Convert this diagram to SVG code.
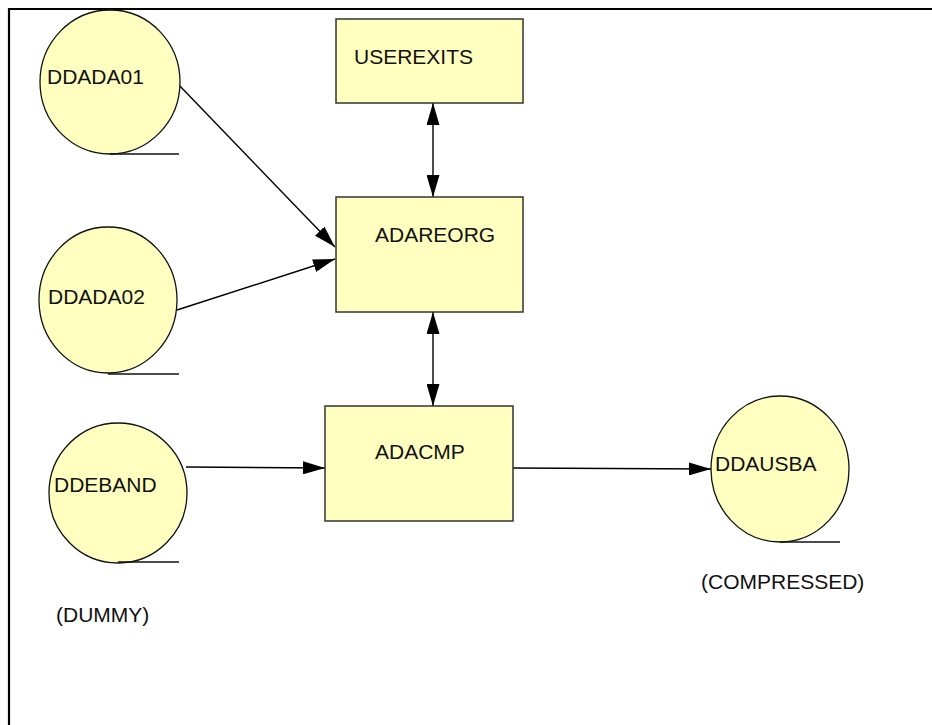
<svg xmlns="http://www.w3.org/2000/svg" width="932" height="725" viewBox="0 0 932 725">
<style>
.store{fill:#FFFFC0;stroke:#111;stroke-width:1.3}
.box{fill:#FFFFC0;stroke:#333;stroke-width:1.5}
.tail{stroke:#111;stroke-width:1.3;fill:none}
.lbl{font-family:"Liberation Sans",Arial,sans-serif;font-size:21px;fill:#111}
.conn{stroke:#000;stroke-width:1.4;fill:none}
</style>
<defs>
<marker id="ah" viewBox="0 0 22 13" refX="22" refY="6.5" markerWidth="22" markerHeight="13" markerUnits="userSpaceOnUse" orient="auto-start-reverse">
<path d="M0,0 L22,6.5 L0,13 Z" fill="#000"/>
</marker>
</defs>
<rect width="932" height="725" fill="#fff"/>
<g id="frame" stroke="#000" stroke-width="2.2" fill="none">
<line x1="8" y1="9" x2="932" y2="9"/>
<line x1="9" y1="8" x2="9" y2="725"/>
</g>
<g id="connectors">
<line class="conn" x1="433" y1="103" x2="433" y2="197" marker-start="url(#ah)" marker-end="url(#ah)"/>
<line class="conn" x1="433" y1="312" x2="433" y2="406" marker-start="url(#ah)" marker-end="url(#ah)"/>
<line class="conn" x1="177" y1="83" x2="335" y2="247" marker-end="url(#ah)"/>
<line class="conn" x1="177" y1="310" x2="335" y2="259" marker-end="url(#ah)"/>
<line class="conn" x1="186" y1="467" x2="325" y2="468" marker-end="url(#ah)"/>
<line class="conn" x1="513" y1="468" x2="711" y2="469" marker-end="url(#ah)"/>
</g>
<g id="DDADA01">
<ellipse class="store" cx="110" cy="82" rx="70" ry="72"/>
<line class="tail" x1="110" y1="154" x2="179" y2="154"/>
<text class="lbl" x="47" y="84">DDADA01</text>
</g>
<g id="DDADA02">
<ellipse class="store" cx="108" cy="300" rx="69" ry="73"/>
<line class="tail" x1="108" y1="374" x2="179" y2="374"/>
<text class="lbl" x="48" y="304">DDADA02</text>
</g>
<g id="DDEBAND">
<ellipse class="store" cx="118" cy="493" rx="69" ry="70"/>
<line class="tail" x1="118" y1="562" x2="179" y2="562"/>
<text class="lbl" x="54" y="492">DDEBAND</text>
<text class="lbl" x="56" y="622">(DUMMY)</text>
</g>
<g id="DDAUSBA">
<ellipse class="store" cx="780" cy="469" rx="69" ry="73"/>
<line class="tail" x1="780" y1="542" x2="840" y2="542"/>
<text class="lbl" x="715" y="471">DDAUSBA</text>
<text class="lbl" x="701" y="589">(COMPRESSED)</text>
</g>
<g id="USEREXITS">
<rect class="box" x="336" y="19" width="187" height="84"/>
<text class="lbl" x="354" y="64">USEREXITS</text>
</g>
<g id="ADAREORG">
<rect class="box" x="336" y="197" width="187" height="115"/>
<text class="lbl" x="375" y="242">ADAREORG</text>
</g>
<g id="ADACMP">
<rect class="box" x="325" y="406" width="188" height="115"/>
<text class="lbl" x="375" y="459">ADACMP</text>
</g>
</svg>
